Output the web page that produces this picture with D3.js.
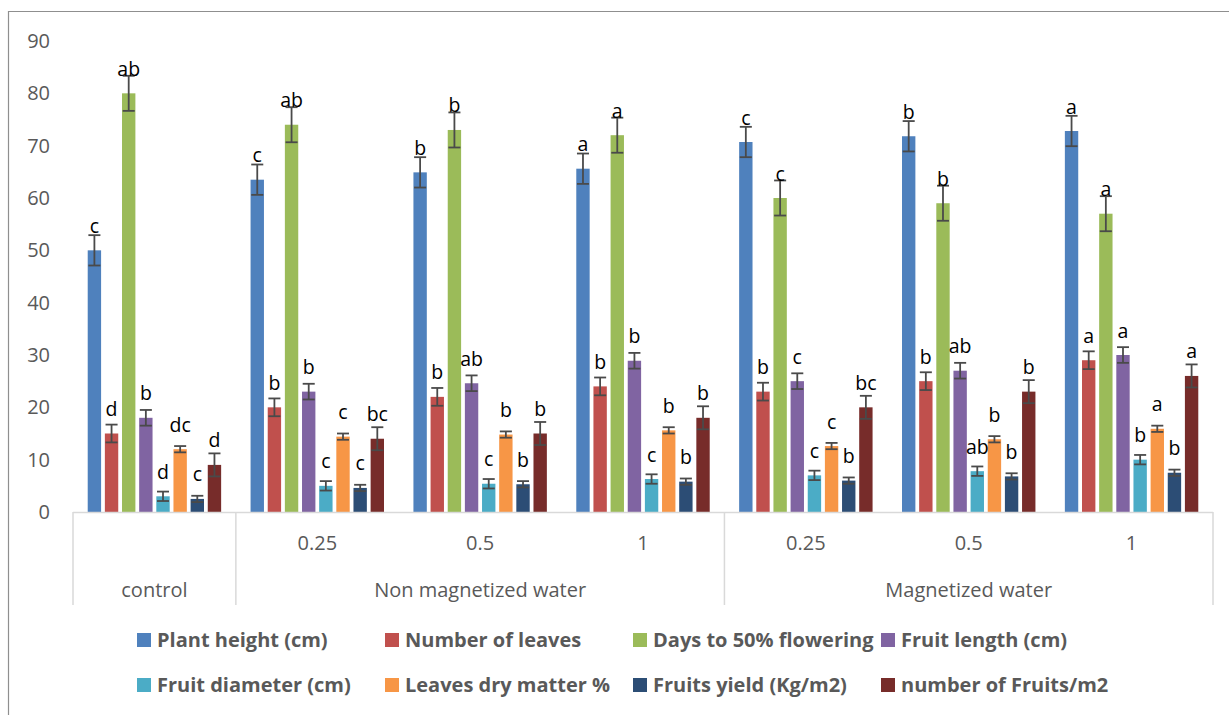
<!DOCTYPE html>
<html>
<head>
<meta charset="utf-8">
<script src="https://cdn.jsdelivr.net/npm/d3@7"></script>
<style>
  html, body { margin: 0; padding: 0; background: #fff; }
  svg { display: block; }
</style>
</head>
<body>
<svg id="chart" width="1229" height="715"></svg>
<script>
// ---------- DATA ----------
const categories = ["control", "0.25", "0.5", "1", "0.25", "0.5", "1"];
const groupLabels = ["control", "Non magnetized water", "Magnetized water"];
const groupSizes = [1, 3, 3];
const seriesNames = ["Plant height (cm)", "Number of leaves", "Days to 50% flowering", "Fruit length (cm)",
                     "Fruit diameter (cm)", "Leaves dry matter %", "Fruits yield (Kg/m2)", "number of Fruits/m2"];
const plantHeight   = [50, 63.5, 64.9, 65.6, 70.7, 71.8, 72.8];
const numLeaves     = [15, 20, 22, 24, 23, 25, 29];
const daysFlowering = [80, 74, 73, 72, 60, 59, 57];
const fruitLength   = [18, 23, 24.6, 28.9, 25, 27, 30];
const fruitDiameter = [3, 5, 5.4, 6.3, 7, 7.8, 10];
const leavesDryMatter = [12, 14.4, 14.8, 15.6, 12.6, 13.9, 15.9];
const fruitsYield   = [2.5, 4.6, 5.3, 5.8, 6, 6.8, 7.5];
const numFruits     = [9, 14, 15, 18, 20, 23, 26];
const seriesErrors  = [2.9, 1.7, 3.35, 1.5, 0.9, 0.6, 0.6, 2.2];
const lettersPlantHeight = ["c", "c", "b", "a", "c", "b", "a"];
const lettersNumLeaves   = ["d", "b", "b", "b", "b", "b", "a"];
const lettersDays        = ["ab", "ab", "b", "a", "c", "b", "a"];
const lettersFruitLength = ["b", "b", "ab", "b", "c", "ab", "a"];
const lettersFruitDiam   = ["d", "c", "c", "c", "c", "ab", "b"];
const lettersDryMatter   = ["dc", "c", "b", "b", "c", "b", "a"];
const lettersYield       = ["c", "c", "b", "b", "b", "b", "b"];
const lettersNumFruits   = ["d", "bc", "b", "b", "bc", "b", "a"];
const yTicks = [0, 10, 20, 30, 40, 50, 60, 70, 80, 90];
const colors = ["#4F81BD", "#C0504D", "#9BBB59", "#8064A2", "#4BACC6", "#F79646", "#2C4D75", "#772C2A"];

const seriesValues = [plantHeight, numLeaves, daysFlowering, fruitLength, fruitDiameter, leavesDryMatter, fruitsYield, numFruits];
const seriesLetters = [lettersPlantHeight, lettersNumLeaves, lettersDays, lettersFruitLength, lettersFruitDiam, lettersDryMatter, lettersYield, lettersNumFruits];

// ---------- LAYOUT ----------
const svg = d3.select("#chart");
const plotLeft = 73, plotRight = 1213, y0 = 512, y90 = 41;

// frame
svg.append("path").attr("d", "M8.5,760 V11.5 H1240")
  .attr("fill", "none").attr("stroke", "#8f8f8f").attr("stroke-width", 1.2);

const catIdx = d3.range(categories.length);
const x0 = d3.scaleBand().domain(catIdx).range([plotLeft, plotRight]).padding(0);
const y = d3.scaleLinear().domain([0, 90]).range([y0, y90]);

const x1 = d3.scaleBand().domain(d3.range(seriesNames.length))
  .range([0, 137.2]).paddingInner(0.22).paddingOuter(0.11);
const innerOffset = (x0.bandwidth() - 137.2) / 2;

// y tick labels
svg.append("g").selectAll("text").data(yTicks).join("text")
  .attr("x", 50).attr("y", d => y(d)).attr("dy", "0.35em")
  .attr("text-anchor", "end")
  .attr("font-family", "Open Sans, sans-serif").attr("font-size", 20)
  .attr("fill", "#595959").text(d => d);

// bars
const rows = [];
seriesValues.forEach((vals, s) => vals.forEach((v, c) => rows.push({s, c, v, e: seriesErrors[s], l: seriesLetters[s][c]})));

const gBars = svg.append("g");
gBars.selectAll("rect").data(rows).join("rect")
  .attr("x", d => x0(d.c) + innerOffset + x1(d.s))
  .attr("y", d => y(d.v))
  .attr("width", x1.bandwidth())
  .attr("height", d => y0 - y(d.v))
  .attr("fill", d => colors[d.s]);

// error bars
const capW = x1.bandwidth() * 0.9;
const gErr = svg.append("g").attr("stroke", "#4a4a4a").attr("stroke-width", 1.8).attr("fill", "none");
rows.forEach(d => {
  const cx = x0(d.c) + innerOffset + x1(d.s) + x1.bandwidth() / 2;
  const yt = y(d.v + d.e), yb = y(d.v - d.e);
  gErr.append("line").attr("x1", cx).attr("x2", cx).attr("y1", yt).attr("y2", yb);
  gErr.append("line").attr("x1", cx - capW / 2).attr("x2", cx + capW / 2).attr("y1", yt).attr("y2", yt);
  gErr.append("line").attr("x1", cx - capW / 2).attr("x2", cx + capW / 2).attr("y1", yb).attr("y2", yb);
});

// letter labels
svg.append("g").selectAll("text").data(rows).join("text")
  .attr("x", d => x0(d.c) + innerOffset + x1(d.s) + x1.bandwidth() / 2)
  .attr("y", d => y(d.v) - 17.5)
  .attr("text-anchor", "middle")
  .attr("font-family", "Open Sans, sans-serif").attr("font-size", 19.5)
  .attr("fill", "#000").text(d => d.l);

// category axis (multi-level)
const axisColor = "#d9d9d9";
const gAx = svg.append("g").attr("stroke", axisColor).attr("stroke-width", 1.5);
gAx.append("line").attr("x1", plotLeft).attr("x2", plotRight).attr("y1", y0 + 0.5).attr("y2", y0 + 0.5);
let acc = 0;
const bounds = [0];
groupSizes.forEach(n => { acc += n; bounds.push(acc); });
bounds.forEach(b => {
  const xx = b < categories.length ? x0(b) : plotRight;
  gAx.append("line").attr("x1", xx).attr("x2", xx).attr("y1", y0).attr("y2", 605);
});

// level-1 labels (sub categories) — control has none in first row
svg.append("g").selectAll("text").data(catIdx.filter(i => i > 0)).join("text")
  .attr("x", i => x0(i) + x0.bandwidth() / 2).attr("y", 543).attr("dy", "0.35em")
  .attr("text-anchor", "middle")
  .attr("font-family", "Open Sans, sans-serif").attr("font-size", 20)
  .attr("fill", "#595959").text(i => categories[i]);

// level-2 labels (groups)
svg.append("g").selectAll("text").data(groupLabels).join("text")
  .attr("x", (d, i) => {
    const a = bounds[i], b = bounds[i + 1];
    const xa = x0(a), xb = b < categories.length ? x0(b) : plotRight;
    return (xa + xb) / 2;
  })
  .attr("y", 590).attr("dy", "0.35em")
  .attr("text-anchor", "middle")
  .attr("font-family", "Open Sans, sans-serif").attr("font-size", 20)
  .attr("fill", "#595959").text(d => d);

// legend
const legX = [137, 385, 633, 881];
const legY = [640, 685];
const gLeg = svg.append("g");
seriesNames.forEach((name, i) => {
  const lx = legX[i % 4], ly = legY[Math.floor(i / 4)];
  gLeg.append("rect").attr("x", lx).attr("y", ly - 7).attr("width", 14).attr("height", 14).attr("fill", colors[i]);
  gLeg.append("text").attr("x", lx + 20).attr("y", ly).attr("dy", "0.35em")
    .attr("font-family", "Open Sans, sans-serif").attr("font-weight", "bold").attr("font-size", 20)
    .attr("fill", "#595959").text(name);
});
</script>
</body>
</html>
